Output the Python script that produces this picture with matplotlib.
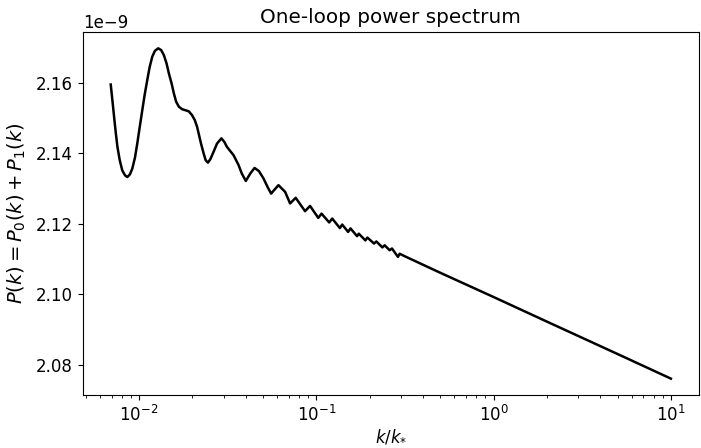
import matplotlib
matplotlib.use("Agg")
import matplotlib.pyplot as plt
import numpy as np

# k / k_* values
k = [0.00693, 0.00708, 0.00724, 0.00740, 0.00756, 0.00779, 0.00805, 0.00834,
     0.00860, 0.00890, 0.00917, 0.00950, 0.00978, 0.01009, 0.01044, 0.01076,
     0.01114, 0.01148, 0.01188, 0.01230, 0.01284, 0.01334, 0.01381, 0.01431,
     0.01474, 0.01528, 0.01573, 0.01621, 0.01679, 0.01751, 0.01829, 0.01909,
     0.01992, 0.02064, 0.02127, 0.02239, 0.02317, 0.02377, 0.02449, 0.02528,
     0.02636, 0.02754, 0.02915, 0.03030, 0.03133, 0.03417, 0.03646, 0.03802,
     0.04006, 0.04243, 0.04487, 0.04747, 0.05040, 0.05310, 0.05564, 0.05830,
     0.06119, 0.06672, 0.07118, 0.07656, 0.08643, 0.09226, 0.1026, 0.1071,
     0.1183, 0.1230, 0.1359, 0.1400, 0.1513, 0.1559, 0.1699, 0.1737,
     0.1892, 0.1942, 0.2117, 0.2182, 0.2358, 0.2430, 0.2594, 0.2672,
     0.2889, 0.2951, 0.3214, 0.5, 1.0, 2.0, 5.0, 10.0]

# P(k) in units of 1e-9
p = [2.1596, 2.1552, 2.1504, 2.1459, 2.1419, 2.1381, 2.1352, 2.1338,
     2.1333, 2.1341, 2.1357, 2.1389, 2.1428, 2.1474, 2.1523, 2.1566,
     2.1609, 2.1645, 2.1675, 2.1692, 2.1699, 2.1694, 2.1680, 2.1656,
     2.1628, 2.1599, 2.1571, 2.1547, 2.1533, 2.1526, 2.1523, 2.1520,
     2.1509, 2.1495, 2.1476, 2.1428, 2.1400, 2.1381, 2.1374, 2.1384,
     2.1405, 2.1428, 2.1443, 2.1433, 2.1419, 2.1395, 2.1367, 2.1343,
     2.1322, 2.1343, 2.1359, 2.1350, 2.1329, 2.1305, 2.1286, 2.1298,
     2.1310, 2.1291, 2.1258, 2.1274, 2.1236, 2.1251, 2.1217, 2.1229,
     2.1204, 2.1215, 2.1188, 2.1198, 2.1177, 2.1187, 2.1165, 2.1172,
     2.1153, 2.1161, 2.1144, 2.1150, 2.1133, 2.1139, 2.1125, 2.1130,
     2.1106, 2.1115, 2.1106, 2.1061, 2.0992, 2.0922, 2.0830, 2.0760]

plt.rcParams["font.size"] = 12

fig, ax = plt.subplots(figsize=(7.01, 4.48), dpi=100)
fig.subplots_adjust(left=0.118, right=0.997, top=0.929, bottom=0.118)

ax.plot(k, np.array(p) * 1e-9, color="black", linewidth=1.8)
ax.set_xscale("log")
ax.set_title("One-loop power spectrum")
ax.set_xlabel(r"$k/k_{*}$", labelpad=2)
ax.set_ylabel(r"$P(k) = P_0(k) + P_1(k)$", fontsize=14, labelpad=6)

fig.savefig("out.png", dpi=100)
